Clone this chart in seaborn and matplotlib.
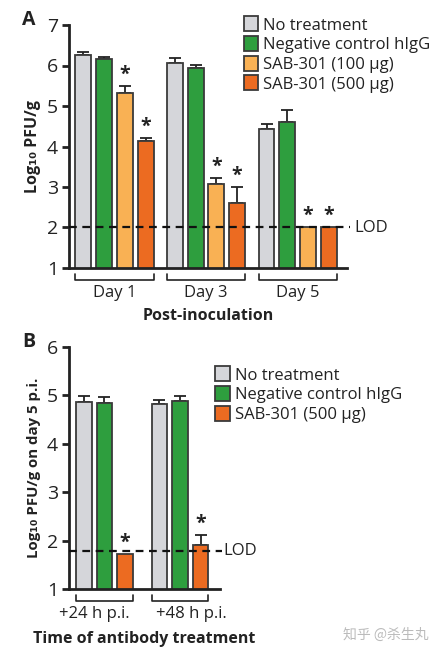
import numpy as np
import pandas as pd
import matplotlib
matplotlib.use("Agg")
import matplotlib.pyplot as plt
import seaborn as sns

# ---------------- data ----------------
days = ["Day 1", "Day 3", "Day 5"]
treat_a = ["No treatment", "Negative control hIgG", "SAB-301 (100 µg)", "SAB-301 (500 µg)"]
mean_a = {
    "No treatment": [6.27, 6.05, 4.43],
    "Negative control hIgG": [6.15, 5.95, 4.61],
    "SAB-301 (100 µg)": [5.33, 3.07, 2.02],
    "SAB-301 (500 µg)": [4.13, 2.61, 2.02],
}
err_a = {
    "No treatment": [0.07, 0.14, 0.12],
    "Negative control hIgG": [0.06, 0.06, 0.29],
    "SAB-301 (100 µg)": [0.16, 0.14, 0.0],
    "SAB-301 (500 µg)": [0.08, 0.39, 0.0],
}
star_a = {"SAB-301 (100 µg)", "SAB-301 (500 µg)"}
lod_a = 2.0

times = ["+24 h p.i.", "+48 h p.i."]
treat_b = ["No treatment", "Negative control hIgG", "SAB-301 (500 µg)"]
mean_b = {
    "No treatment": [4.86, 4.83],
    "Negative control hIgG": [4.85, 4.89],
    "SAB-301 (500 µg)": [1.72, 1.90],
}
err_b = {
    "No treatment": [0.12, 0.08],
    "Negative control hIgG": [0.11, 0.09],
    "SAB-301 (500 µg)": [0.0, 0.21],
}
star_b = {"SAB-301 (500 µg)"}
lod_b = 1.79

colors = {
    "No treatment": "#D5D6DA",
    "Negative control hIgG": "#2E9E3E",
    "SAB-301 (100 µg)": "#F9B154",
    "SAB-301 (500 µg)": "#EC6B21",
}

sns.set_theme(style="ticks")
FONT = ["Open Sans", "DejaVu Sans"]
plt.rcParams["font.family"] = FONT
INK = "#222222"

fig = plt.figure(figsize=(4.36, 6.56), dpi=100)


def panel(ax, cats, treats, means, errs, stars, lod, ylim, yticks, ylabel, ylabel_size,
          xlabel, width, gap, xlim, legend_anchor, label_offsets, xlabel_y):
    rows = []
    for t in treats:
        for i, c in enumerate(cats):
            rows.append({"cat": c, "treat": t, "val": means[t][i]})
    df = pd.DataFrame(rows)
    sns.barplot(data=df, x="cat", y="val", hue="treat", order=cats, hue_order=treats,
                palette=colors, saturation=1, width=width, gap=gap, errorbar=None,
                edgecolor="#3a3a3a", linewidth=1.3, ax=ax, legend=False, zorder=2)
    bars = list(ax.patches)
    k = 0
    for t in treats:
        for i, c in enumerate(cats):
            p = bars[k]
            k += 1
            xc = p.get_x() + p.get_width() / 2
            v = means[t][i]
            e = errs[t][i]
            if e > 0:
                ax.errorbar([xc], [v], yerr=[[0], [e]], fmt="none", ecolor=INK,
                            elinewidth=1.3, capsize=4, capthick=1.3, zorder=1)
            if t in stars:
                ax.text(xc, v + e + 0.03, "*", ha="center", va="bottom", fontsize=14,
                        fontweight="bold", color=INK, family=FONT)
    ax.set_ylim(*ylim)
    ax.set_yticks(yticks)
    ax.set_xlim(*xlim)
    ax.set_xticks([])
    ax.set_xlabel("")
    ax.set_ylabel(ylabel, fontsize=ylabel_size, fontweight="bold", labelpad=4, color=INK)
    for s in ["top", "right"]:
        ax.spines[s].set_visible(False)
    for s in ["left", "bottom"]:
        ax.spines[s].set_linewidth(2)
        ax.spines[s].set_color(INK)
    ax.tick_params(axis="y", length=5, width=2, labelsize=14, pad=3, colors=INK)
    # LOD line
    ax.plot([xlim[0], xlim[1] + 0.01 * (xlim[1] - xlim[0])], [lod, lod], ls=(0, (3.5, 2.5)),
            color="#111111", lw=1.6, clip_on=False, zorder=3)
    ax.text(1.025, lod, "LOD", transform=ax.get_yaxis_transform(), ha="left", va="center",
            fontsize=12, color=INK)
    # group brackets
    trans = ax.get_xaxis_transform()
    for i, c in enumerate(cats):
        grp = [p for p in bars if abs(p.get_x() + p.get_width() / 2 - i) < 0.5]
        x0 = min(p.get_x() for p in grp)
        x1 = max(p.get_x() + p.get_width() for p in grp)
        ax.plot([x0, x0, x1, x1], [-0.025, -0.05, -0.05, -0.025], color=INK, lw=1.2,
                transform=trans, clip_on=False)
        ax.text((x0 + x1) / 2 + label_offsets[i], -0.07, c, transform=trans, ha="center",
                va="top", fontsize=12, color=INK)
    ax.text(0.5, xlabel_y, xlabel, transform=ax.transAxes,
            ha="center", va="top", fontsize=11.5, fontweight="bold", color=INK)
    # legend
    handles = [matplotlib.patches.Patch(facecolor=colors[t], edgecolor="#3a3a3a", lw=1.3)
               for t in treats]
    leg = ax.legend(handles, treats, loc="upper left", bbox_to_anchor=legend_anchor,
                    frameon=False, fontsize=12, handlelength=0.85, handleheight=1.0,
                    handletextpad=0.3, labelspacing=0.15, borderaxespad=0, borderpad=0)
    for txt in leg.get_texts():
        txt.set_color(INK)


axA = fig.add_axes([69 / 436, 1 - 268 / 656, 278 / 436, 243 / 656])
panel(axA, days, treat_a, mean_a, err_a, star_a, lod_a, (1, 7), range(1, 8),
      "Log₁₀ PFU/g", 11.5, "Post-inoculation", 0.905, 0.23, (-0.497, 2.54),
      (0.63, 1.035), [0, 0, 0], -0.165)

axB = fig.add_axes([69 / 436, 1 - 589 / 656, 151 / 436, 242 / 656])
panel(axB, times, treat_b, mean_b, err_b, star_b, lod_b, (1, 6), range(1, 7),
      "Log₁₀ PFU/g on day 5 p.i.", 10.8, "Time of antibody treatment", 0.817, 0.23,
      (-0.47, 1.53), (0.97, 0.92), [-0.13, 0.15], -0.175)

fig.text(22 / 436, 1 - 20 / 656, "A", fontsize=14, fontweight="bold", ha="left",
         va="center", color=INK)
fig.text(22 / 436, 1 - 342 / 656, "B", fontsize=14, fontweight="bold", ha="left",
         va="center", color=INK)

fig.text(343 / 436, 1 - 635 / 656, "知乎 @杀生丸", fontsize=10, color="#BBBBBB",
         family=["Noto Sans CJK SC", "DejaVu Sans"], ha="left", va="center")

fig.savefig("out.png", dpi=100)
